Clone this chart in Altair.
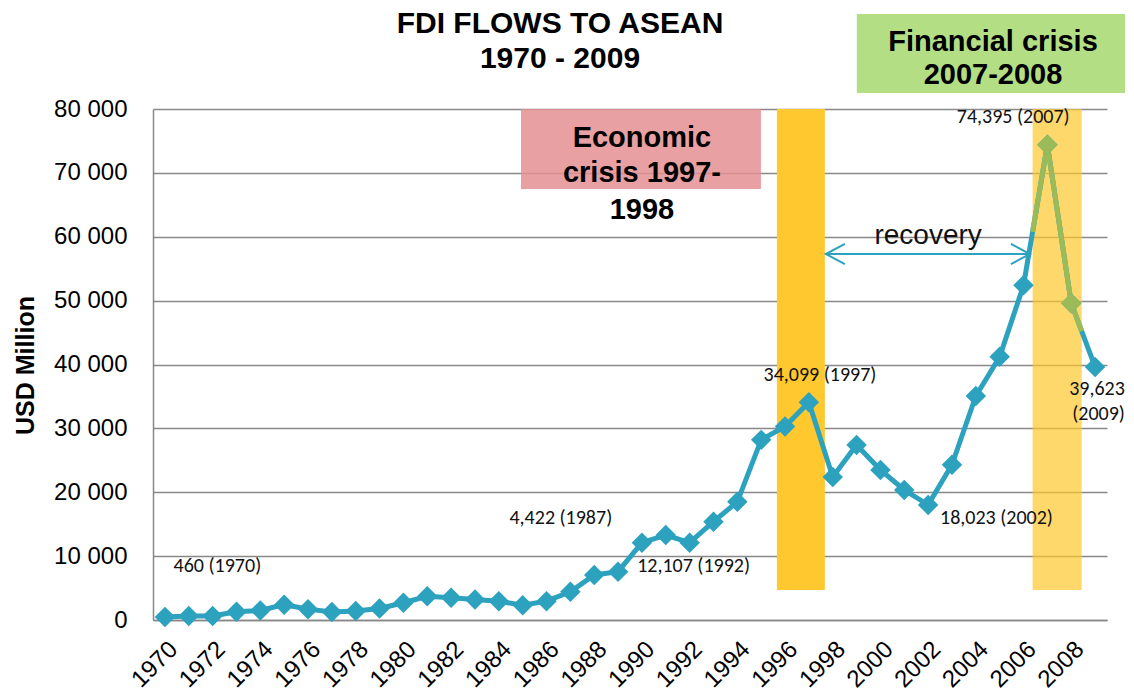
import altair as alt
import pandas as pd
import numpy as np

# ---- data ----
years = list(range(1970, 2010))
fdi = [460, 620, 620, 1300, 1500, 2400, 1700, 1250, 1400, 1800,
       2700, 3700, 3500, 3200, 2950, 2300, 2950, 4422, 7050, 7560,
       12100, 13300, 12107, 15400, 18500, 28200, 30300, 34099, 22400, 27400,
       23500, 20350, 18023, 24300, 35070, 41200, 52400, 74395, 49600, 39623]

# crisis shading bands (years, USD million)
band_start = [1995.66, 2006.38]
band_end = [1997.67, 2008.44]
band_low = [4700, 4700]
band_high = [80000, 80000]
band_op = [1.0, 0.7]

# highlighted financial-crisis stretch of the line (clipped to the second band)
hl_years = [2006.38, 2007, 2008, 2008.44]
hl_points = [2007, 2008]

# annotation boxes
box_x = [1984.93, 1999.01]
box_x2 = [1994.99, 2010.42]
box_y = [67480, 82500]
box_y2 = [80000, 94870]
box_color = ["#E48F92", "#B3DE84"]
box_op = [0.85, 1.0]

box_text = ["Economic", "crisis 1997-", "1998", "Financial crisis", "2007-2008"]
box_text_x = [1990.0, 1990.0, 1990.0, 2004.72, 2004.72]
box_text_y = [75460, 69980, 64190, 90490, 85320]

# data labels
lab_text = ["460 (1970)", "4,422 (1987)", "12,107 (1992)", "34,099 (1997)",
            "18,023 (2002)", "74,395 (2007)", "39,623", "(2009)"]
lab_x = [1972.2, 1986.6, 1989.8, 1995.1, 2002.5, 2003.2, 2010.25, 2010.25]
lab_y = [8450, 15970, 8450, 38400, 15970, 78700, 36200, 32300]
lab_align = ["center", "center", "left", "left", "left", "left", "right", "right"]

# recovery arrow
arrow_x = [1998.51, 1997.71, 1998.51, 2005.47, 2006.27, 2005.47]
arrow_y = [58870, 57300, 55730, 58870, 57300, 55730]
arrow_part = ["L", "L", "L", "R", "R", "R"]
rec_x = [2002.0]
rec_y = [60100]

x_ticks = list(range(1970, 2010, 2))
y_ticks = list(range(0, 80001, 10000))

BLUE = "#2CA2BF"
GREEN = "#9BBB59"
YELLOW = "#FFC82E"
LABEL_FONT = "'Liberation Sans Narrow', Carlito, Lato, sans-serif"

xs = alt.Scale(domain=[1969.5, 2009.5], nice=False, zero=False)
ys = alt.Scale(domain=[0, 80000], nice=False)

x_axis = alt.Axis(values=x_ticks, labelAngle=-45, labelFontSize=24,
                  labelFont="Liberation Sans", labelColor="#000",
                  grid=False, ticks=False, domainColor="#888888",
                  domainWidth=1.5, labelPadding=17, format="d",
                  labelFlush=False, labelOverlap=False)
y_axis = alt.Axis(values=y_ticks, labelFontSize=24, labelFont="Liberation Sans",
                  labelColor="#000", ticks=False, labelPadding=26,
                  gridColor="#888888", gridWidth=1.3,
                  domainColor="#888888", domainWidth=1.5,
                  labelExpr="replace(format(datum.value, ','), ',', ' ')",
                  titleFont="Liberation Sans", titleFontSize=25,
                  titleFontWeight="bold", titleColor="#000",
                  titleX=-128, titleY=256, titleAngle=270,
                  titleAlign="center", titleBaseline="middle")

XE = alt.X("x:Q", scale=xs, axis=x_axis, title=None)
YE = alt.Y("y:Q", scale=ys, axis=y_axis, title="USD Million")

df = pd.DataFrame({"x": years, "y": fdi})
hl = pd.DataFrame({"x": hl_years, "y": np.interp(hl_years, years, fdi)})
hlp = pd.DataFrame({"x": hl_points, "y": [fdi[years.index(v)] for v in hl_points]})
bands = pd.DataFrame({"x": band_start, "x2": band_end, "y": band_low, "y2": band_high, "op": band_op})
boxes = pd.DataFrame({"x": box_x, "x2": box_x2, "y": box_y, "y2": box_y2, "c": box_color, "op": box_op})
btext = pd.DataFrame({"x": box_text_x, "y": box_text_y, "t": box_text})
labs = pd.DataFrame({"x": lab_x, "y": lab_y, "t": lab_text, "a": lab_align})
arrow = pd.DataFrame({"x": arrow_x, "y": arrow_y, "p": arrow_part, "i": list(range(len(arrow_x)))})
shaft = pd.DataFrame({"x": [arrow_x[1]], "x2": [arrow_x[4]], "y": [arrow_y[1]]})
rec = pd.DataFrame({"x": rec_x, "y": rec_y, "t": ["recovery"]})

band_layer = alt.Chart(bands).mark_rect(color=YELLOW).encode(
    x=XE, x2="x2:Q", y=YE, y2="y2:Q",
    opacity=alt.Opacity("op:Q", scale=None, legend=None),
)

box_layer = alt.Chart(boxes).mark_rect().encode(
    x=XE, x2="x2:Q", y=YE, y2="y2:Q",
    color=alt.Color("c:N", scale=None, legend=None),
    opacity=alt.Opacity("op:Q", scale=None, legend=None),
)

box_text_layer = alt.Chart(btext).mark_text(
    font="Liberation Sans", fontSize=29, fontWeight="bold", color="#000",
    align="center", baseline="middle",
).encode(x=XE, y=YE, text="t:N")

base_line = alt.Chart(df).mark_line(color=BLUE, strokeWidth=5).encode(x=XE, y=YE)
hl_line = alt.Chart(hl).mark_line(color=GREEN, strokeWidth=5).encode(x=XE, y=YE)

pts = alt.Chart(df).mark_point(shape="diamond", filled=True, size=420, color=BLUE, opacity=1).encode(
    x=XE, y=YE)
hl_pts = alt.Chart(hlp).mark_point(shape="diamond", filled=True, size=420, color=GREEN, opacity=1).encode(
    x=XE, y=YE)

label_layers = []
for a in ["left", "center", "right"]:
    label_layers.append(
        alt.Chart(labs).transform_filter(alt.datum.a == a).mark_text(
            font=LABEL_FONT, fontSize=20, color="#111", align=a, baseline="middle",
        ).encode(x=XE, y=YE, text="t:N")
    )

arrow_layer = alt.Chart(arrow).mark_line(color=BLUE, strokeWidth=2).encode(
    x=XE, y=YE, detail="p:N", order="i:Q")
arrow_shaft = alt.Chart(shaft).mark_rule(color=BLUE, strokeWidth=2).encode(x=XE, x2="x2:Q", y=YE)
rec_layer = alt.Chart(rec).mark_text(
    font="Liberation Sans", fontSize=28, color="#111", align="center", baseline="middle"
).encode(x=XE, y=YE, text="t:N")

chart = alt.layer(
    band_layer, box_layer, base_line, hl_line, pts, hl_pts,
    box_text_layer, *label_layers, arrow_layer, arrow_shaft, rec_layer,
).properties(
    width=954, height=511,
    title=alt.TitleParams(["FDI FLOWS TO ASEAN", "1970 - 2009"], fontSize=30,
                          font="Liberation Sans", fontWeight="bold", color="#000",
                          anchor="middle", frame="group", dx=-70, dy=60,
                          lineHeight=35, offset=0),
    autosize=alt.AutoSizeParams(type="none"),
    padding={"left": 145, "top": 101, "right": 18, "bottom": 76},
    background="white",
).configure_view(stroke=None)

chart.save("out.html", embed_options={"renderer": "svg", "actions": False})
